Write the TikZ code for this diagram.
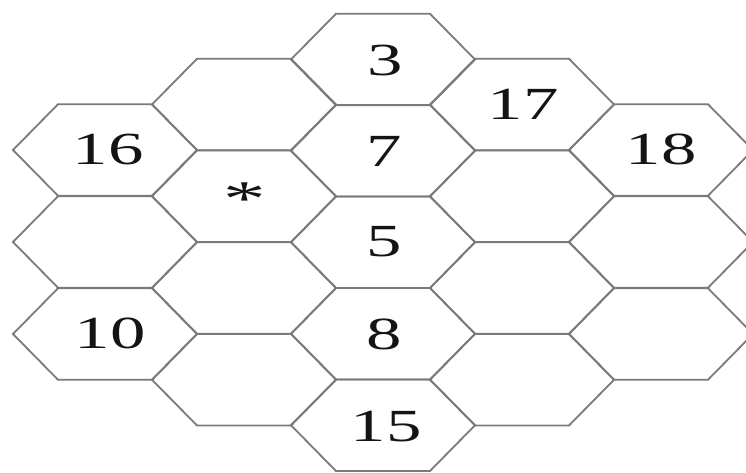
\documentclass[tikz,border=0pt]{standalone}
\usepackage{graphicx}
\usepackage{fontspec}
\setmainfont{Liberation Serif}
\newcommand\widetext[1]{\scalebox{1.54}[1]{#1}}
\tikzset{
  hexline/.style={draw=black!52, line width=1.8pt, line join=miter},
  lab/.style={inner sep=0pt, text=black!92, font=\fontsize{46}{46}\selectfont},
}
\begin{document}
\begin{tikzpicture}[x=1pt,y=-1pt]
\useasboundingbox (0,0) rectangle (746,473);
\fill[white] (0,0) rectangle (746,473);
\begin{scope}
\clip (0,0) rectangle (746,473);
% column 1 and 5
\foreach \cx in {105,661}{
  \foreach \cy in {150,242,334}{
    \draw[hexline] (\cx-92,\cy) -- (\cx-47,\cy-45.75) -- (\cx+47,\cy-45.75) -- (\cx+92,\cy) -- (\cx+47,\cy+45.75) -- (\cx-47,\cy+45.75) -- cycle;
  }
}
% column 2 and 4
\foreach \cx in {244,522}{
  \foreach \cy in {104.5,196.25,288,379.75}{
    \draw[hexline] (\cx-92,\cy) -- (\cx-47,\cy-45.75) -- (\cx+47,\cy-45.75) -- (\cx+92,\cy) -- (\cx+47,\cy+45.75) -- (\cx-47,\cy+45.75) -- cycle;
  }
}
% column 3
\foreach \cy in {59.5,150.75,242.25,333.75,425.25}{
  \def\cx{383}
  \draw[hexline] (\cx-92,\cy) -- (\cx-47,\cy-45.75) -- (\cx+47,\cy-45.75) -- (\cx+92,\cy) -- (\cx+47,\cy+45.75) -- (\cx-47,\cy+45.75) -- cycle;
}
\end{scope}
% labels
\node[lab] (l16) at (108,149) {\widetext{16}};
\node[lab] (l10) at (110,333) {\widetext{10}};
\node[lab] (l3)  at (385,60)  {\widetext{3}};
\node[lab] (l7)  at (384,151) {\widetext{7}};
\node[lab] (l5)  at (384,242) {\widetext{5}};
\node[lab] (l8)  at (384,334) {\widetext{8}};
\node[lab] (l15) at (386,427) {\widetext{15}};
\node[lab] (l17) at (523,104) {\widetext{17}};
\node[lab] (l18) at (661,149) {\widetext{18}};
\node[lab, font=\fontsize{50}{50}\selectfont] (lstar) at (245,199) {\scalebox{1.7}[1]{*}};
\end{tikzpicture}
\end{document}
